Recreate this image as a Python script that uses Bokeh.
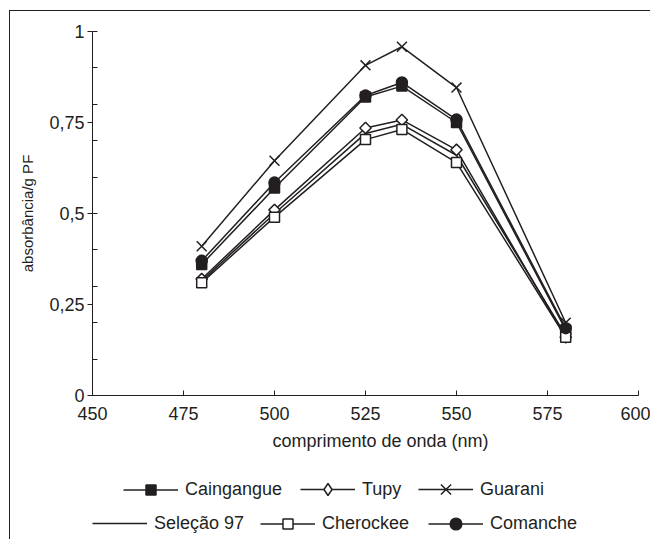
from bokeh.plotting import figure
from bokeh.models import Range1d, FixedTicker, Legend, LegendItem, Label
from bokeh.layouts import column
from bokeh.embed import file_html
from bokeh.resources import INLINE

# ---- data ----
wavelengths = [480, 500, 525, 535, 550, 580]
caingangue = [0.36, 0.57, 0.82, 0.85, 0.75, 0.18]
tupy = [0.32, 0.51, 0.735, 0.757, 0.675, 0.16]
guarani = [0.41, 0.645, 0.907, 0.958, 0.846, 0.20]
selecao97 = [0.315, 0.50, 0.72, 0.745, 0.66, 0.165]
cherockee = [0.31, 0.49, 0.703, 0.731, 0.64, 0.16]
comanche = [0.37, 0.585, 0.824, 0.86, 0.758, 0.185]

x_ticks = [450, 475, 500, 525, 550, 575, 600]
y_ticks = [0, 0.25, 0.5, 0.75, 1]
y_tick_labels = ["0", "0,25", "0,5", "0,75", "1"]
y_minor = [0, 0.1, 0.2, 0.3, 0.4, 0.5, 0.6, 0.7, 0.8, 0.9, 1.0]
x_title = "comprimento de onda (nm)"
y_title = "absorbância/g PF"

INK = "#231f20"
FONT = "Liberation Sans"

p = figure(width=640, height=417, output_backend="svg", toolbar_location=None,
           x_range=Range1d(450, 600), y_range=Range1d(0, 1),
           min_border_left=82, min_border_right=12, min_border_top=20,
           min_border_bottom=33)
p.grid.visible = False
p.outline_line_color = None
p.background_fill_color = "white"
p.border_fill_color = "white"

for ax in (p.xaxis[0], p.yaxis[0]):
    ax.axis_line_color = INK
    ax.axis_line_width = 1
    ax.major_tick_line_color = INK
    ax.minor_tick_line_color = INK
    ax.major_label_text_font = FONT
    ax.major_label_text_font_size = "18px"
    ax.major_label_text_color = INK
    ax.axis_label_text_font = FONT
    ax.axis_label_text_font_style = "normal"
    ax.axis_label_text_color = INK

p.xaxis.ticker = FixedTicker(ticks=x_ticks, minor_ticks=[])
p.xaxis.major_tick_in = 5
p.xaxis.major_tick_out = 0
p.xaxis.major_label_standoff = 11

p.yaxis.ticker = FixedTicker(ticks=y_ticks, minor_ticks=y_minor)
p.yaxis.major_label_overrides = {t: l for t, l in zip(y_ticks, y_tick_labels)}
p.yaxis.major_tick_in = 0
p.yaxis.major_tick_out = 5
p.yaxis.minor_tick_in = 5
p.yaxis.minor_tick_out = 0
p.yaxis.major_label_standoff = 3
p.yaxis.axis_label = y_title
p.yaxis.axis_label_text_font_size = "15px"
p.yaxis.axis_label_standoff = 10

LW = 1.5
# name, values, plot marker, plot size, fill, angle, legend marker, legend glyph box
series = [
    ("Caingangue", caingangue, "square", 10, INK, 0, "square", 25),
    ("Tupy", tupy, "square", 8, "white", 0.785398, "diamond", 30),
    ("Guarani", guarani, "x", 14, None, 0, "x", 36),
    ("Seleção 97", selecao97, None, 0, None, 0, None, 22),
    ("Cherockee", cherockee, "square", 10, "white", 0, "square", 25),
    ("Comanche", comanche, "circle", 11, INK, 0, "circle", 29),
]

for s in series:
    p.line(wavelengths, s[1], line_color=INK, line_width=LW)
for name, vals, marker, size, fill, angle, _, _ in series:
    if marker is None:
        continue
    p.scatter(wavelengths, vals, marker=marker, size=size, angle=angle,
              line_color=INK, line_width=LW, fill_color=fill if fill else INK)

# ---- lower panel: x title + legend (frame aligned with the plot above) ----
H2 = 111
q = figure(width=640, height=H2, output_backend="svg", toolbar_location=None,
           x_range=Range1d(92, 638), y_range=Range1d(0, H2),
           x_axis_type=None, y_axis_type=None, min_border=0,
           min_border_left=82, min_border_right=12)
q.grid.visible = False
q.outline_line_color = None
q.background_fill_color = "white"
q.border_fill_color = "white"
# a range far above the series values: legend-only copies stay out of view
q.extra_y_ranges = {"legend_only": Range1d(10, 11)}

q.add_layout(Label(x=380, y=99, text=x_title, text_align="center",
                   text_baseline="middle", text_font=FONT,
                   text_font_size="18px", text_color=INK))

# legend rows: (name, left offset in px from frame, row centre in px from bottom)
legend_pos = {
    "Caingangue": (31, 50), "Tupy": (208, 50), "Guarani": (326, 50),
    "Seleção 97": (0, 16), "Cherockee": (168, 16), "Comanche": (336, 16),
}

for name, vals, marker, size, fill, angle, lmarker, gh in series:
    rs = [q.line(wavelengths, vals, line_color=INK, line_width=LW,
                 y_range_name="legend_only")]
    if lmarker is not None:
        rs.append(q.scatter(wavelengths, vals, marker=lmarker, size=size,
                            line_color=INK, line_width=LW,
                            fill_color=fill if fill else INK,
                            y_range_name="legend_only"))
    lx, lc = legend_pos[name]
    h = max(gh, 22)
    lg = Legend(items=[LegendItem(label=name, renderers=rs)],
                orientation="horizontal", location=(lx, lc - h / 2),
                glyph_width=55, glyph_height=gh, label_standoff=7,
                label_text_font=FONT, label_text_font_size="18px",
                label_text_color=INK, label_height=22,
                padding=0, margin=0, spacing=0,
                border_line_color=None, background_fill_alpha=0)
    q.add_layout(lg, "center")

layout = column(p, q, spacing=0)
layout.styles = {"border-left": "1px solid #231f20", "border-top": "1px solid #231f20",
                 "margin-left": "9px", "margin-top": "10px"}

open("out.html", "w").write(file_html(layout, INLINE))
